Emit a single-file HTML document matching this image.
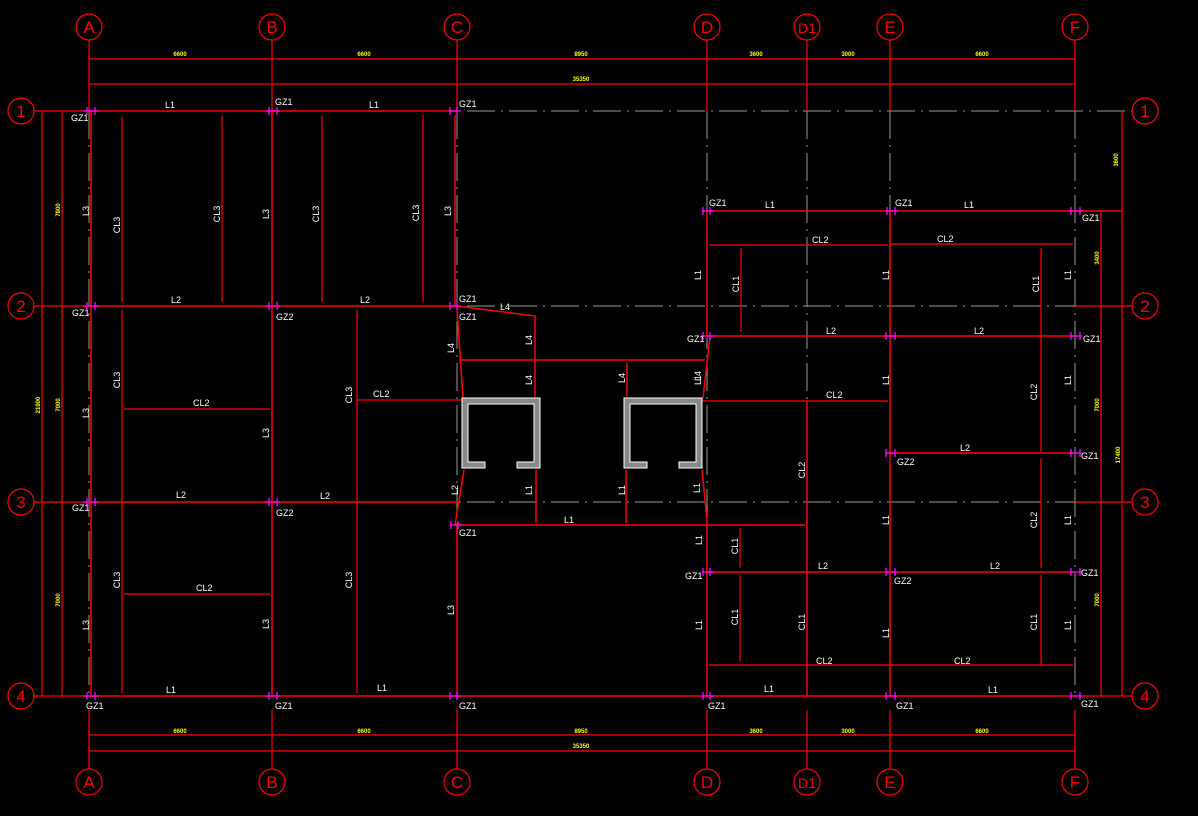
<!DOCTYPE html>
<html><head><meta charset="utf-8"><style>
html,body{margin:0;padding:0;background:#000;}
svg{display:block;}
text{font-family:"Liberation Sans",sans-serif;}
.w{fill:#fff;font-size:9px;}
.y{fill:#ff0;font-size:6px;font-weight:bold;}
.c{fill:none;stroke:#f00;stroke-width:1.2;}
.cl{fill:#f00;font-size:17px;}
.r{stroke:#f00;stroke-width:1.5;fill:none;}
.r1{stroke:#f00;stroke-width:1.2;fill:none;}
.g{stroke:#999;stroke-width:1;stroke-dasharray:28,6,2,6;fill:none;}
.m{stroke:#f0f;stroke-width:1.3;fill:none;}
</style></head><body>
<svg width="1198" height="816" viewBox="0 0 1198 816" xmlns="http://www.w3.org/2000/svg">
<rect width="1198" height="816" fill="#000"/>
<g class="g">
<path d="M89 111V696M272 111V696M457 111V696M707 111V696M807 111V696M890 111V696M1075 111V696"/>
<path d="M89 111H1132M89 306H1132M89 502H1132M89 696H1132"/>
</g>
<g class="r1">
<path d="M89 40V111M272 40V111M457 40V111M707 40V111M807 40V111M890 40V111M1075 40V111"/>
<path d="M89 710V769M272 710V769M457 710V769M707 710V769M807 710V769M890 710V769M1075 710V769"/>
<path d="M34 111H89M34 306H89M34 502H89M34 696H89M1075 306H1132M1075 502H1132M1075 696H1132"/>
<path d="M89 59H1075M89 84H1075M89 735H1075M89 751H1075"/>
<path d="M42 111V696M62 111V696M1101 211V696M1122 111V696"/>
</g>
<g class="c">
<circle cx="89" cy="27" r="13"/><circle cx="272" cy="27" r="13"/><circle cx="457" cy="27" r="13"/><circle cx="707" cy="27" r="13"/><circle cx="807" cy="27" r="13"/><circle cx="890" cy="27" r="13"/><circle cx="1075" cy="27" r="13"/>
<circle cx="89" cy="782" r="13"/><circle cx="272" cy="782" r="13"/><circle cx="457" cy="782" r="13"/><circle cx="707" cy="782" r="13"/><circle cx="807" cy="782" r="13"/><circle cx="890" cy="782" r="13"/><circle cx="1075" cy="782" r="13"/>
<circle cx="21" cy="111" r="13"/><circle cx="21" cy="306" r="13"/><circle cx="21" cy="502" r="13"/><circle cx="21" cy="696" r="13"/>
<circle cx="1145" cy="111" r="13"/><circle cx="1145" cy="306" r="13"/><circle cx="1145" cy="502" r="13"/><circle cx="1145" cy="696" r="13"/>
</g>
<g class="cl" text-anchor="middle">
<text x="89" y="33">A</text><text x="272" y="33">B</text><text x="457" y="33">C</text><text x="707" y="33">D</text><text x="807" y="33" font-size="14">D1</text><text x="890" y="33">E</text><text x="1075" y="33">F</text>
<text x="89" y="788">A</text><text x="272" y="788">B</text><text x="457" y="788">C</text><text x="707" y="788">D</text><text x="807" y="788" font-size="14">D1</text><text x="890" y="788">E</text><text x="1075" y="788">F</text>
<text x="21" y="117">1</text><text x="21" y="312">2</text><text x="21" y="508">3</text><text x="21" y="702">4</text>
<text x="1145" y="117">1</text><text x="1145" y="312">2</text><text x="1145" y="508">3</text><text x="1145" y="702">4</text>
</g>
<g class="r">
<path d="M89 111H457M89 306H457M89 502H457M89 696H1075"/>
<path d="M707 211H1122"/>
<path d="M91 111V696M272 111V696M455 115V306M457 525V696M707 211V338M707 520V696M890 211V696M807 401V696"/>
<path d="M707 336H1075M890 453H1075M707 572H1075"/>
<path d="M457 306L535 316V397M460 360H705M627 363V396"/>
<path d="M457 310L463 398M464 470L455 525M710 336L703 398M702 470L707 520"/>
<path d="M457 525H805M536 470V523M626 470V523"/>
</g>
<g class="r1">
<path d="M122 117V302M222 116V302M322 116V302M423 115V302M122 310V693M357 310V693"/>
<path d="M124 409H270M124 594H270M357 400H462M702 401H888"/>
<path d="M709 245H888M891 244H1073M741 248V332M1041 248V452M1041 458V568M1041 575V665M709 665H1073M740 528V568M740 575V661"/>
</g>
<g fill="#888" stroke="#fff" stroke-width="1">
<path d="M462 398H540V468H517V462H534V404H468V462H485V468H462Z"/>
<path d="M624 398H702V468H679V462H696V404H630V462H647V468H624Z"/>
</g>
<g class="m">
<path d="M83 111h16M87 107v8M95 107v8M83 306h16M87 302v8M95 302v8M83 502h16M87 498v8M95 498v8M83 696h16M87 692v8M95 692v8"/>
<path d="M266 111h14M269 107v8M277 107v8M266 306h14M269 302v8M277 302v8M266 502h14M269 498v8M277 498v8M266 696h14M269 692v8M277 692v8"/>
<path d="M449 111h12M450 107v8M457 107v8M449 306h12M450 302v8M457 302v8M450 525h12M451 521v8M458 521v8M449 696h12M450 692v8M457 692v8"/>
<path d="M702 211h12M703 207v8M710 207v8M702 336h12M703 332v8M710 332v8M702 572h12M703 568v8M710 568v8M702 696h12M703 692v8M710 692v8"/>
<path d="M886 211h12M887 207v8M895 207v8M885 336h12M886 332v8M895 332v8M885 453h12M886 449v8M895 449v8M885 572h12M886 568v8M895 568v8M885 696h12M886 692v8M895 692v8"/>
<path d="M1070 211h12M1071 207v8M1080 207v8M1070 336h12M1071 332v8M1080 332v8M1070 453h12M1071 449v8M1080 449v8M1070 572h12M1071 568v8M1080 568v8M1070 696h12M1071 692v8M1080 692v8"/>
</g>
<g class="w">
<text x="165" y="108">L1</text><text x="275" y="105">GZ1</text><text x="369" y="108">L1</text><text x="459" y="107">GZ1</text><text x="71" y="121">GZ1</text>
<text x="171" y="303">L2</text><text x="360" y="303">L2</text><text x="72" y="316">GZ1</text><text x="276" y="320">GZ2</text><text x="459" y="302">GZ1</text><text x="459" y="320">GZ1</text><text x="500" y="310">L4</text>
<text x="176" y="498">L2</text><text x="320" y="499">L2</text><text x="72" y="511">GZ1</text><text x="276" y="516">GZ2</text><text x="459" y="536">GZ1</text><text x="564" y="523">L1</text>
<text x="166" y="693">L1</text><text x="377" y="691">L1</text><text x="86" y="709">GZ1</text><text x="275" y="709">GZ1</text><text x="459" y="709">GZ1</text><text x="708" y="709">GZ1</text><text x="764" y="692">L1</text><text x="896" y="709">GZ1</text><text x="988" y="693">L1</text><text x="1081" y="707">GZ1</text>
<text x="193" y="406">CL2</text><text x="196" y="591">CL2</text><text x="373" y="397">CL2</text>
<text x="709" y="206">GZ1</text><text x="765" y="208">L1</text><text x="895" y="206">GZ1</text><text x="964" y="208">L1</text><text x="1082" y="221">GZ1</text>
<text x="812" y="243">CL2</text><text x="937" y="242">CL2</text>
<text x="687" y="342">GZ1</text><text x="826" y="334">L2</text><text x="974" y="334">L2</text><text x="1083" y="342">GZ1</text>
<text x="826" y="398">CL2</text><text x="960" y="451">L2</text><text x="897" y="465">GZ2</text><text x="1081" y="459">GZ1</text>
<text x="685" y="579">GZ1</text><text x="818" y="569">L2</text><text x="894" y="584">GZ2</text><text x="990" y="569">L2</text><text x="1081" y="576">GZ1</text>
<text x="816" y="664">CL2</text><text x="954" y="664">CL2</text>
</g>
<g class="w" text-anchor="middle">
<text transform="translate(89,211) rotate(-90)">L3</text><text transform="translate(120,225) rotate(-90)">CL3</text><text transform="translate(220,214) rotate(-90)">CL3</text><text transform="translate(269,214) rotate(-90)">L3</text><text transform="translate(319,214) rotate(-90)">CL3</text><text transform="translate(419,213) rotate(-90)">CL3</text><text transform="translate(451,211) rotate(-90)">L3</text>
<text transform="translate(89,413) rotate(-90)">L3</text><text transform="translate(120,380) rotate(-90)">CL3</text><text transform="translate(269,433) rotate(-90)">L3</text><text transform="translate(352,395) rotate(-90)">CL3</text>
<text transform="translate(454,348) rotate(-90)">L4</text><text transform="translate(532,340) rotate(-90)">L4</text><text transform="translate(532,380) rotate(-90)">L4</text><text transform="translate(625,378) rotate(-90)">L4</text><text transform="translate(701,376) rotate(-90)">L4</text>
<text transform="translate(458,490) rotate(-90)">L2</text><text transform="translate(532,490) rotate(-90)">L1</text><text transform="translate(625,490) rotate(-90)">L1</text><text transform="translate(700,488) rotate(-90)">L1</text>
<text transform="translate(89,625) rotate(-90)">L3</text><text transform="translate(120,580) rotate(-90)">CL3</text><text transform="translate(269,624) rotate(-90)">L3</text><text transform="translate(352,580) rotate(-90)">CL3</text><text transform="translate(454,610) rotate(-90)">L3</text>
<text transform="translate(701,275) rotate(-90)">L1</text><text transform="translate(739,284) rotate(-90)">CL1</text><text transform="translate(889,275) rotate(-90)">L1</text><text transform="translate(1039,284) rotate(-90)">CL1</text><text transform="translate(1071,275) rotate(-90)">L1</text>
<text transform="translate(701,380) rotate(-90)">L1</text><text transform="translate(889,380) rotate(-90)">L1</text><text transform="translate(1037,392) rotate(-90)">CL2</text><text transform="translate(1071,380) rotate(-90)">L1</text>
<text transform="translate(805,470) rotate(-90)">CL2</text><text transform="translate(889,520) rotate(-90)">L1</text><text transform="translate(1037,520) rotate(-90)">CL2</text><text transform="translate(1071,520) rotate(-90)">L1</text>
<text transform="translate(702,540) rotate(-90)">L1</text><text transform="translate(738,546) rotate(-90)">CL1</text><text transform="translate(702,625) rotate(-90)">L1</text><text transform="translate(738,617) rotate(-90)">CL1</text><text transform="translate(805,622) rotate(-90)">CL1</text><text transform="translate(889,633) rotate(-90)">L1</text><text transform="translate(1037,622) rotate(-90)">CL1</text><text transform="translate(1071,625) rotate(-90)">L1</text>
</g>
<g class="y" text-anchor="middle">
<text x="180" y="56">6600</text><text x="364" y="56">6600</text><text x="581" y="56">8950</text><text x="756" y="56">3600</text><text x="848" y="56">3000</text><text x="982" y="56">6600</text><text x="581" y="81">35350</text>
<text x="180" y="733">6600</text><text x="364" y="733">6600</text><text x="581" y="733">8950</text><text x="756" y="733">3600</text><text x="848" y="733">3000</text><text x="982" y="733">6600</text><text x="581" y="748">35350</text>
<text transform="translate(60,210) rotate(-90)">7800</text><text transform="translate(60,405) rotate(-90)">7000</text><text transform="translate(60,600) rotate(-90)">7000</text><text transform="translate(40,405) rotate(-90)">21900</text>
<text transform="translate(1118,160) rotate(-90)">3600</text><text transform="translate(1099,258) rotate(-90)">3400</text><text transform="translate(1099,405) rotate(-90)">7000</text><text transform="translate(1120,455) rotate(-90)">17400</text><text transform="translate(1099,600) rotate(-90)">7000</text>
</g>
</svg>
</body></html>
